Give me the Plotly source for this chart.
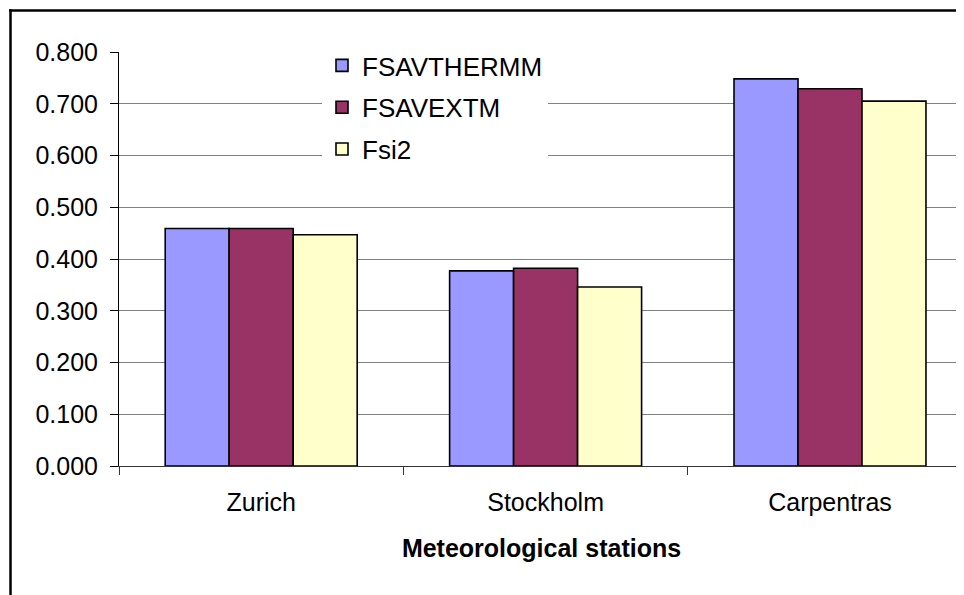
import plotly.graph_objects as go

stations = ["Zurich", "Stockholm", "Carpentras"]
series_names = ["FSAVTHERMM", "FSAVEXTM", "Fsi2"]
fsavthermm = [0.459, 0.377, 0.748]
fsavextm = [0.459, 0.382, 0.729]
fsi2 = [0.447, 0.346, 0.705]
y_ticks = [0.0, 0.1, 0.2, 0.3, 0.4, 0.5, 0.6, 0.7, 0.8]

colors = ["#9999FF", "#993366", "#FFFFCC"]
values = [fsavthermm, fsavextm, fsi2]

FONT = "Liberation Sans, Arial, sans-serif"

fig = go.Figure()
for i, (name, vals) in enumerate(zip(series_names, values)):
    fig.add_trace(go.Bar(
        x=stations, y=vals, name=name,
        marker=dict(color=colors[i], line=dict(color="black", width=1.6)),
        legendgroup=name,
    ))

# page body has an 8px margin; compensate so the figure lands where the reference is
OFF = 8
W, H = 964 - OFF, 595 - OFF
ml, mr, mt, mb = 119 - OFF, 0, 52 - OFF, 129
pw = W - ml - mr
ph = H - mt - mb


def px_x(x):
    return (x - OFF - ml) / pw


def px_y(y):
    return 1 - (y - OFF - mt) / ph


fig.update_layout(
    width=W, height=H,
    margin=dict(l=ml, r=mr, t=mt, b=mb, pad=0),
    paper_bgcolor="white", plot_bgcolor="white",
    barmode="group", bargap=0.325, bargroupgap=0,
    font=dict(family=FONT, size=25, color="black"),
    showlegend=True,
    legend=dict(
        x=px_x(322), xanchor="left",
        y=px_y(42), yanchor="top",
        bgcolor="white", borderwidth=0,
        font=dict(family=FONT, size=26, color="black"),
        tracegroupgap=5, itemwidth=30,
        entrywidth=232, entrywidthmode="pixels",
    ),
    xaxis=dict(
        type="category", range=[-0.5, -0.5 + pw / 284.4],
        showgrid=False, showline=True, linecolor="#333333", linewidth=1,
        ticks="outside", tickson="boundaries", ticklen=8, tickcolor="#333333",
        tickfont=dict(size=25), ticklabelstandoff=14,
        title=dict(text="<b>Meteorological stations</b>", font=dict(size=25), standoff=24),
        zeroline=False,
    ),
    yaxis=dict(
        range=[0, 0.8], autorange=False,
        tickvals=y_ticks, tickformat=".3f",
        showgrid=True, gridcolor="#808080", gridwidth=1,
        showline=True, linecolor="black", linewidth=1,
        ticks="outside", ticklen=8, tickcolor="black",
        tickfont=dict(size=25), ticklabelstandoff=7,
        zeroline=False,
    ),
    shapes=[
        dict(type="line", xref="paper", yref="paper",
             x0=px_x(10.5), x1=px_x(10.5),
             y0=px_y(9.25), y1=-1,
             line=dict(color="black", width=2.5)),
        dict(type="line", xref="paper", yref="paper",
             x0=px_x(9.25), x1=1.1,
             y0=px_y(10.5), y1=px_y(10.5),
             line=dict(color="black", width=2.5)),
    ],
)

fig.write_html("out.html")
